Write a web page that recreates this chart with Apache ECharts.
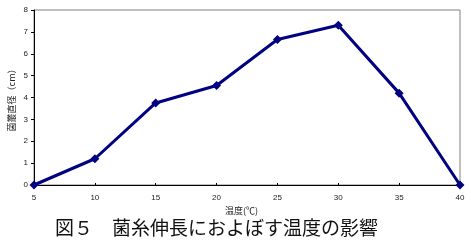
<!DOCTYPE html>
<html><head><meta charset="utf-8">
<script src="https://cdn.jsdelivr.net/npm/echarts@6/dist/echarts.min.js"></script>
<style>html,body{margin:0;padding:0;background:#fff}#c{width:471px;height:242px}</style>
</head><body><div id="c"></div>
<script>
const temperatures = [5, 10, 15, 20, 25, 30, 35, 40];
const growth = [0, 1.2, 3.75, 4.55, 6.65, 7.3, 4.2, 0];
const yTicks = [0, 1, 2, 3, 4, 5, 6, 7, 8];
const xTitle = '温度(℃)';
const yTitle = '菌叢直径（cm）';
const figTitle = '図５　菌糸伸長におよぼす温度の影響';

const chart = echarts.init(document.getElementById('c'), null, {renderer: 'canvas'});
chart.setOption({
  animation: false,
  backgroundColor: '#fff',
  grid: {left: 34, right: 11, top: 10, bottom: 57, show: true, borderColor: '#808080', borderWidth: 1},
  xAxis: {
    type: 'value', min: 5, max: 40, interval: 5,
    axisLine: {show: true, onZero: false, lineStyle: {color: '#000', width: 1}},
    axisTick: {show: true, inside: true, length: 2, lineStyle: {color: '#000'}},
    axisLabel: {fontSize: 8, color: '#222', fontFamily: 'Liberation Sans', margin: 9},
    splitLine: {show: false}
  },
  yAxis: {
    type: 'value', min: yTicks[0], max: yTicks[yTicks.length - 1], interval: 1,
    axisLine: {show: true, lineStyle: {color: '#000', width: 1}},
    axisTick: {show: true, length: 3, lineStyle: {color: '#000'}},
    axisLabel: {fontSize: 8, color: '#222', fontFamily: 'Liberation Sans', margin: 6},
    splitLine: {show: false}
  },
  graphic: [
    {type: 'text', left: 225, top: 206, style: {text: xTitle, fontSize: 9, fill: '#222', fontFamily: 'Noto Sans CJK JP'}},
    {type: 'text', x: 12, y: 98, rotation: Math.PI / 2, style: {text: yTitle, fontSize: 9, fill: '#222', fontFamily: 'Noto Sans CJK JP', align: 'center', verticalAlign: 'middle'}},
    {type: 'text', left: 55, top: 218, style: {text: figTitle, fontSize: 19, fill: '#111', fontFamily: 'Noto Sans CJK JP'}}
  ],
  series: [{
    type: 'line',
    data: temperatures.map((t, i) => [t, growth[i]]),
    symbol: 'diamond', symbolSize: 9,
    lineStyle: {color: '#000080', width: 3},
    itemStyle: {color: '#000080'},
    clip: false
  }]
});
</script></body></html>
